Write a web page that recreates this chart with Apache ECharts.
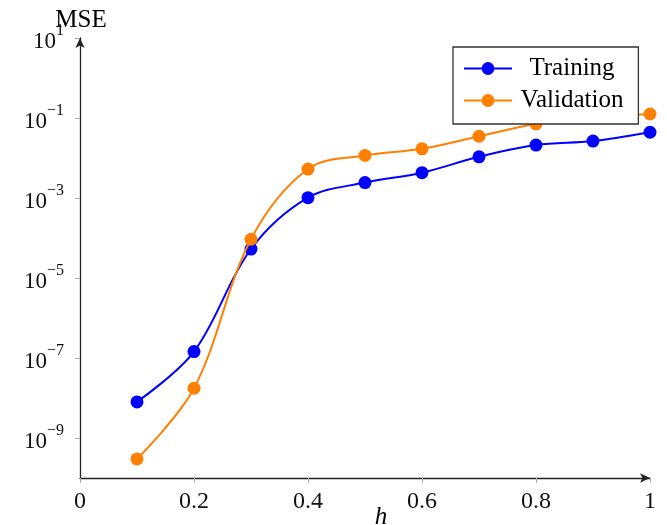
<!DOCTYPE html>
<html>
<head>
<meta charset="utf-8">
<script src="https://cdn.jsdelivr.net/npm/echarts@6/dist/echarts.min.js"></script>
<style>html,body{margin:0;padding:0;background:#fff}#c{width:667px;height:525px}</style>
</head>
<body>
<div id="c"></div>
<script>
const hValues = [0.1, 0.2, 0.3, 0.4, 0.5, 0.6, 0.7, 0.8, 0.9, 1.0];
const training = [8.0e-9, 1.45e-7, 5.3e-5, 1.02e-3, 2.43e-3, 4.3e-3, 1.07e-2, 2.1e-2, 2.65e-2, 4.4e-2];
const validation = [3.0e-10, 1.75e-8, 9.3e-5, 5.3e-3, 1.16e-2, 1.7e-2, 3.5e-2, 7.1e-2, 1.0e-1, 1.26e-1];
const yTickValues = [1e-9, 1e-7, 1e-5, 1e-3, 1e-1, 1e1];
const xTickValues = [0, 0.2, 0.4, 0.6, 0.8, 1];
const seriesNames = ['Training', 'Validation'];

const FONT = '"Liberation Serif", "DejaVu Serif", serif';
const chart = echarts.init(document.getElementById('c'), null, {renderer: 'canvas'});

function supLabel(v) {
  const e = Math.round(Math.log10(v));
  const s = e < 0 ? '\u2212' + (-e) : String(e);
  return '{b|10}{s|' + s + '}';
}

const option = {
  animation: false,
  backgroundColor: '#fff',
  grid: {left: 80, right: 17, top: 38, bottom: 47, containLabel: false},
  legend: {
    orient: 'vertical',
    left: 453, top: 47,
    padding: [9, 15, 11, 10],
    itemGap: 7,
    itemWidth: 48, itemHeight: 16,
    backgroundColor: '#fff',
    borderColor: '#333', borderWidth: 1.3,
    data: seriesNames,
    formatter: n => '{c|' + n + '}',
    textStyle: {
      rich: {c: {width: 110, align: 'center', fontSize: 25, fontFamily: FONT, color: '#000'}}
    }
  },
  xAxis: {
    type: 'value', min: 0, max: 1, interval: 0.2,
    axisLine: {show: true, symbol: ['none', 'arrow'], symbolSize: [7, 10], lineStyle: {color: '#222', width: 1.3}},
    axisTick: {show: true, length: 5, lineStyle: {color: '#aaa'}},
    splitLine: {show: false},
    axisLabel: {
      fontFamily: FONT, fontSize: 24, color: '#111', margin: 12,
      formatter: v => (Math.round(v * 10) / 10).toString()
    }
  },
  yAxis: {
    type: 'log', logBase: 10, min: 1e-10, max: 10,
    axisLine: {show: true, symbol: ['none', 'arrow'], symbolSize: [7, 10], lineStyle: {color: '#222', width: 1.3}},
    axisTick: {show: true, length: 5, lineStyle: {color: '#aaa'}, customValues: yTickValues},
    splitLine: {show: false},
    minorTick: {show: false},
    axisLabel: {
      customValues: yTickValues,
      margin: 16,
      formatter: v => supLabel(v),
      rich: {
        b: {fontFamily: FONT, fontSize: 23, lineHeight: 30, color: '#111', verticalAlign: 'bottom'},
        s: {fontFamily: FONT, fontSize: 16, lineHeight: 14, color: '#111', verticalAlign: 'top'}
      }
    }
  },
  graphic: [
    {type: 'text', x: 81, y: 20.5, style: {text: 'MSE', font: '25px ' + FONT, fill: '#000', textAlign: 'center', textVerticalAlign: 'middle'}},
    {type: 'text', x: 381, y: 517.5, style: {text: 'h', font: 'italic 25px ' + FONT, fill: '#000', textAlign: 'center', textVerticalAlign: 'middle'}}
  ],
  series: [
    {
      name: seriesNames[0], type: 'line', smooth: 0.35,
      data: hValues.map((h, i) => [h, training[i]]),
      symbol: 'circle', symbolSize: 13,
      lineStyle: {color: '#0000ff', width: 2},
      itemStyle: {color: '#0000ff'},
      z: 2
    },
    {
      name: seriesNames[1], type: 'line', smooth: 0.35,
      data: hValues.map((h, i) => [h, validation[i]]),
      symbol: 'circle', symbolSize: 13,
      lineStyle: {color: '#ff8000', width: 2},
      itemStyle: {color: '#ff8000'},
      z: 3
    }
  ]
};
chart.setOption(option);
</script>
</body>
</html>
